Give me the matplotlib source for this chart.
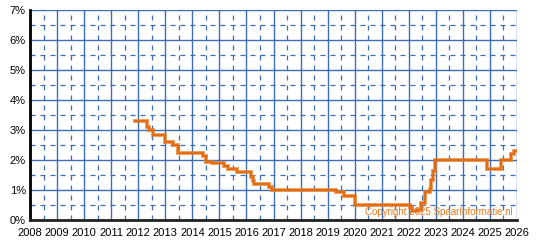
import matplotlib
matplotlib.use("Agg")
from matplotlib import pyplot as plt

# rente-verloop (fractional year, percent), step changes
dates = [2011.88, 2012.31, 2012.41, 2012.54, 2012.99, 2013.30, 2013.48,
         2014.41, 2014.51, 2014.72, 2015.17, 2015.33, 2015.64, 2016.16,
         2016.23, 2016.27, 2016.85, 2016.93, 2019.31, 2019.60, 2020.03,
         2022.05, 2022.11, 2022.29, 2022.46, 2022.60, 2022.78, 2022.82,
         2022.91, 2022.97, 2024.88, 2025.41, 2025.77, 2025.90, 2026.00]
rates = [3.30, 3.10, 3.00, 2.85, 2.60, 2.50, 2.25,
         2.15, 1.95, 1.90, 1.80, 1.70, 1.60, 1.45,
         1.30, 1.20, 1.10, 1.00, 0.95, 0.80, 0.50,
         0.42, 0.30, 0.35, 0.57, 0.95, 1.05, 1.35,
         1.65, 2.00, 1.70, 2.00, 2.20, 2.30, 2.30]

years = list(range(2008, 2027))
pct_ticks = list(range(0, 8))

blue = '#3D6DB5'
orange = '#EC7A1C'

plt.rcParams['font.family'] = ['Liberation Sans', 'DejaVu Sans']

fig = plt.figure(figsize=(5.5, 2.5), dpi=100)
ax = fig.add_axes([30 / 550, 30 / 250, 487 / 550, 210 / 250])

ax.set_xlim(2008, 2026)
ax.set_ylim(0, 7)

# solid grid on whole years / percents, dashed on halves
for y in years:
    ax.axvline(y, color=blue, lw=1.0, zorder=1)
    if y < 2026:
        ax.axvline(y + 0.5, color=blue, lw=0.9, ls=(0, (4, 4)), zorder=1)
for p in pct_ticks:
    ax.axhline(p, color=blue, lw=1.0, zorder=1)
    if p < 7:
        ax.axhline(p + 0.5, color=blue, lw=0.9, ls=(0, (4, 4)), zorder=1)

ax.step(dates, rates, where='post', color=orange, lw=2.8, alpha=0.75,
        solid_joinstyle='miter', zorder=3)
ax.step(dates, rates, where='post', color='#E06A0E', lw=1.3,
        solid_joinstyle='miter', zorder=4)

ax.set_xticks(years)
ax.set_xticklabels([str(y) for y in years])
ax.set_yticks(pct_ticks)
ax.set_yticklabels([f'{p}%' for p in pct_ticks])
ax.tick_params(axis='both', length=0, labelsize=8, colors='black')
ax.tick_params(axis='x', pad=5.5)
ax.tick_params(axis='y', pad=3)

for side in ['top', 'right']:
    ax.spines[side].set_visible(False)
ax.spines['left'].set_linewidth(2)
ax.spines['left'].set_color('black')
ax.spines['bottom'].set_linewidth(2)
ax.spines['bottom'].set_color('#222222')
ax.spines['left'].set_zorder(5)
ax.spines['bottom'].set_zorder(5)

ax.text(0.99, 0.015, 'Copyright 2025 SpaarInformatie.nl', transform=ax.transAxes,
        ha='right', va='bottom', fontsize=7, color=orange, zorder=6)

fig.savefig('out.png', dpi=100)
